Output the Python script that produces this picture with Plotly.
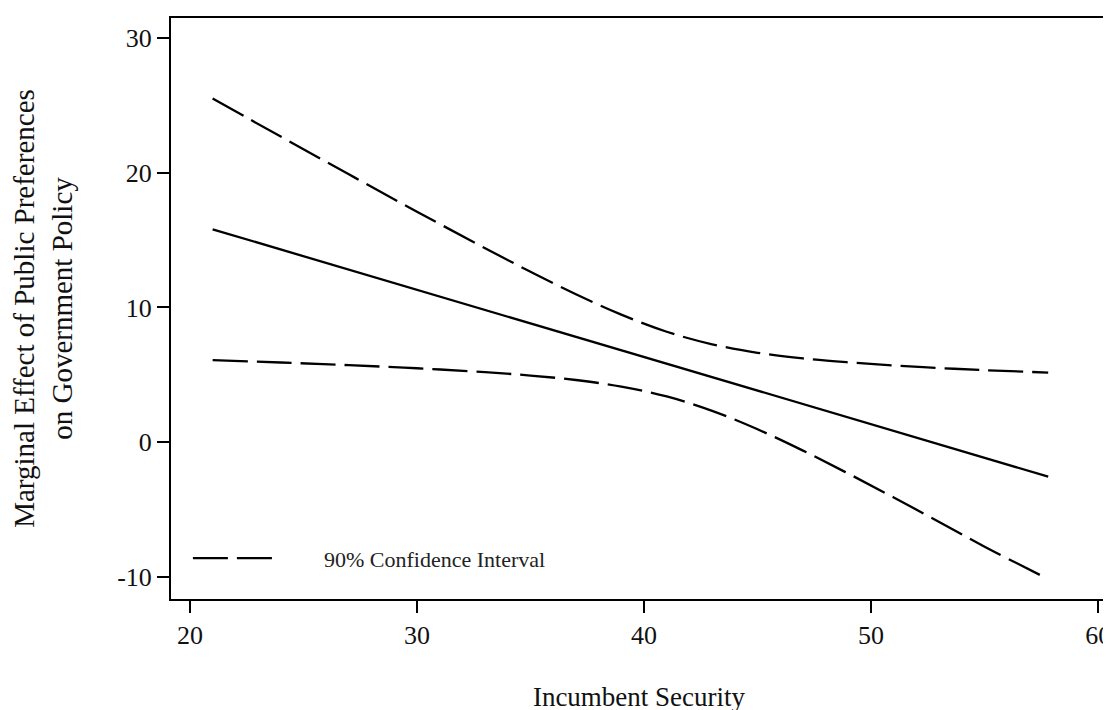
import plotly.graph_objects as go

# Data
security = [21, 24, 27, 30, 33, 35, 37, 39, 41, 43, 45, 47, 49, 51, 53, 55, 57.8]
effect = [15.8, 14.3, 12.8, 11.3, 9.8, 8.8, 7.8, 6.8, 5.8, 4.8, 3.8, 2.8, 1.8, 0.8, -0.2, -1.2, -2.55]
upper_ci = [25.5, 22.68, 19.88, 17.11, 14.4, 12.65, 10.98, 9.47, 8.2, 7.27, 6.64, 6.22, 5.93, 5.7, 5.51, 5.35, 5.17]
lower_ci = [6.1, 5.92, 5.72, 5.49, 5.2, 4.95, 4.62, 4.13, 3.4, 2.33, 0.96, -0.62, -2.33, -4.1, -5.91, -7.75, -10.15]

x_tickvals = [20, 30, 40, 50, 60]
x_ticktext = ["20", "30", "40", "50", "60"]
y_tickvals = [-10, 0, 10, 20, 30]
y_ticktext = ["-10", "0", "10", "20", "30"]

legend_label = "90% Confidence Interval"
FONT = "Liberation Serif, Times New Roman, serif"
dash = "35px,9px"

fig = go.Figure()
fig.add_trace(go.Scatter(x=security, y=effect, mode="lines", line=dict(color="black", width=2.3), showlegend=False))
fig.add_trace(go.Scatter(x=security, y=upper_ci, mode="lines", line=dict(color="black", width=2.3, dash=dash, shape="spline"), showlegend=False))
fig.add_trace(go.Scatter(x=security, y=lower_ci, mode="lines", line=dict(color="black", width=2.3, dash=dash, shape="spline"), showlegend=False))

# legend drawn as a sample line and a label (page has an 8px body margin)
fig.add_shape(type="line", xref="paper", yref="paper", x0=(193 - 171) / 940, x1=(276 - 171) / 940,
              y0=(599 - 558) / 583, y1=(599 - 558) / 583, line=dict(color="black", width=2.3, dash=dash))
fig.add_annotation(xref="paper", yref="paper", x=(323 - 171) / 940, y=(599 - 559) / 583, xanchor="left",
                   yanchor="middle", text=legend_label, showarrow=False, font=dict(family=FONT, size=22, color="#222"))

fig.update_layout(
    width=1111, height=710,
    margin=dict(l=163, r=8, t=8, b=119),
    paper_bgcolor="white", plot_bgcolor="white",
    font=dict(family=FONT, size=26, color="#111"),
)
fig.update_xaxes(range=[19.167, 60.39], tickvals=x_tickvals, ticktext=x_ticktext,
                 showline=True, linecolor="black", linewidth=2, mirror=True,
                 ticks="outside", ticklen=12, tickwidth=1.5, tickcolor="black",
                 showgrid=False, zeroline=False, tickfont=dict(size=26),
                 title=dict(text="Incumbent Security", standoff=38, font=dict(size=27)))
fig.update_yaxes(range=[-11.63, 31.48], tickvals=y_tickvals, ticktext=y_ticktext,
                 showline=True, linecolor="black", linewidth=2,
                 ticks="outside", ticklen=12, tickwidth=1.5, tickcolor="black",
                 showgrid=False, zeroline=False, tickfont=dict(size=26),
                 title=dict(text="Marginal Effect of Public Preferences<br>on Government Policy", standoff=36, font=dict(size=29)))

fig.write_html("out.html")
